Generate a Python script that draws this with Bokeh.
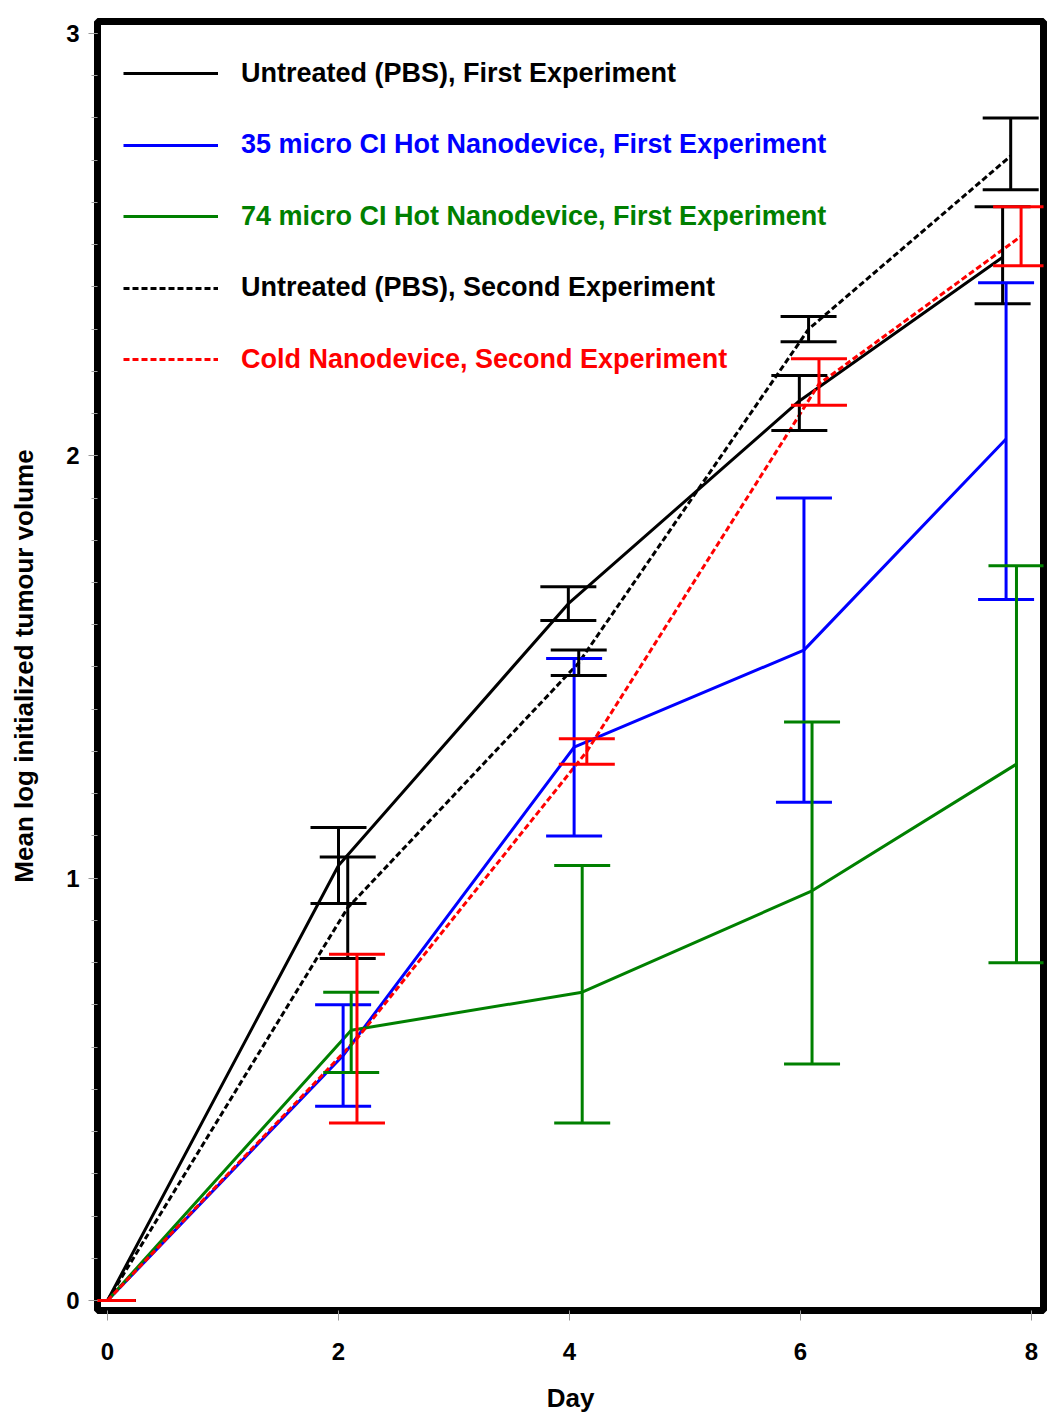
from bokeh.plotting import figure
from bokeh.models import (Whisker, TeeHead, ColumnDataSource, Legend, LegendItem,
                          SingleIntervalTicker, FixedTicker, Range1d)
from bokeh.embed import file_html
from bokeh.resources import INLINE

# ---- data ----
x_ticks = [0, 2, 4, 6, 8]

labels = ["Untreated (PBS), First Experiment",
          "35 micro CI Hot Nanodevice, First Experiment",
          "74 micro CI Hot Nanodevice, First Experiment",
          "Untreated (PBS), Second Experiment",
          "Cold Nanodevice, Second Experiment"]

pbs1_x = [0, 2.00, 3.99, 5.99, 7.75]
pbs1_y = [0, 1.03, 1.65, 2.13, 2.47]
pbs1_lo = [0, 0.94, 1.61, 2.06, 2.36]
pbs1_hi = [0, 1.12, 1.69, 2.19, 2.59]

hot35_x = [0, 2.04, 4.04, 6.03, 7.78]
hot35_y = [0, 0.58, 1.31, 1.54, 2.04]
hot35_lo = [0, 0.46, 1.10, 1.18, 1.66]
hot35_hi = [0, 0.70, 1.52, 1.90, 2.41]

hot74_x = [0, 2.11, 4.11, 6.10, 7.87]
hot74_y = [0, 0.64, 0.73, 0.97, 1.27]
hot74_lo = [0, 0.54, 0.42, 0.56, 0.80]
hot74_hi = [0, 0.73, 1.03, 1.37, 1.74]

pbs2_x = [0, 2.08, 4.08, 6.07, 7.82]
pbs2_y = [0, 0.93, 1.51, 2.30, 2.71]
pbs2_lo = [0, 0.81, 1.48, 2.27, 2.63]
pbs2_hi = [0, 1.05, 1.54, 2.33, 2.80]

cold_x = [0, 2.16, 4.15, 6.16, 7.91]
cold_y = [0, 0.62, 1.30, 2.17, 2.52]
cold_lo = [0, 0.42, 1.27, 2.12, 2.45]
cold_hi = [0, 0.82, 1.33, 2.23, 2.59]

series = [
    (pbs1_x, pbs1_y, pbs1_lo, pbs1_hi, "#000000", "solid"),
    (hot35_x, hot35_y, hot35_lo, hot35_hi, "#0000FF", "solid"),
    (hot74_x, hot74_y, hot74_lo, hot74_hi, "#008000", "solid"),
    (pbs2_x, pbs2_y, pbs2_lo, pbs2_hi, "#000000", "6 3"),
    (cold_x, cold_y, cold_lo, cold_hi, "#FF0000", "6 3"),
]

FONT = "Liberation Sans"

p = figure(width=1050, height=1420, output_backend="svg", toolbar_location=None,
           x_range=Range1d(-0.0866, 8.104), y_range=Range1d(-0.0237, 3.0284),
           min_border_left=97, min_border_right=7, min_border_top=21,
           min_border_bottom=110)
p.background_fill_color = "white"
p.border_fill_color = "white"
p.outline_line_color = "black"
p.outline_line_width = 7
p.outline_line_alpha = 1.0
p.xgrid.visible = False
p.ygrid.visible = False

# axes
p.xaxis.ticker = FixedTicker(ticks=x_ticks)
p.yaxis.ticker = SingleIntervalTicker(interval=1, num_minor_ticks=10)
for ax in (p.xaxis, p.yaxis):
    ax.axis_line_color = None
    ax.major_tick_line_color = "#999999"
    ax.minor_tick_line_color = "#999999"
    ax.major_tick_in = 0
    ax.minor_tick_in = 0
    ax.major_label_text_font = FONT
    ax.major_label_text_font_style = "bold"
    ax.major_label_text_font_size = "24px"
    ax.major_label_text_color = "black"
    ax.axis_label_text_font = FONT
    ax.axis_label_text_font_style = "bold"
    ax.axis_label_text_font_size = "26px"
    ax.axis_label_text_color = "black"
p.xaxis.minor_tick_line_color = None
p.xaxis.major_tick_out = 10
p.xaxis.major_label_standoff = 22
p.xaxis.axis_label = "Day"
p.xaxis.axis_label_standoff = 20
p.yaxis.major_tick_out = 9
p.yaxis.minor_tick_out = 6
p.yaxis.major_label_standoff = 9
p.yaxis.axis_label = "Mean log initialized tumour volume"
p.yaxis.axis_label_standoff = 24

renderers = []
for xs, ys, lo, hi, color, dash in series:
    src = ColumnDataSource(dict(x=xs, y=ys, lo=lo, hi=hi))
    r = p.line("x", "y", source=src, line_color=color, line_width=3, line_dash=dash)
    w = Whisker(source=src, base="x", lower="lo", upper="hi", dimension="height",
                line_color=color, line_width=3, level="glyph",
                upper_head=TeeHead(size=56, line_color=color, line_width=3),
                lower_head=TeeHead(size=56, line_color=color, line_width=3))
    p.add_layout(w)
    renderers.append((r, color))

# legend: one Legend per entry so each label can carry its series colour
legend_centers = [73, 144.5, 216, 287.5, 359]  # page y of each entry
for (r, color), lab, yc in zip(renderers, labels, legend_centers):
    leg = Legend(items=[LegendItem(label=lab, renderers=[r])],
                 location=(26, 1290 - yc),
                 padding=0, margin=0, spacing=0,
                 glyph_width=95, glyph_height=40, label_height=40,
                 label_standoff=23,
                 label_text_font=FONT, label_text_font_style="bold",
                 label_text_font_size="27px", label_text_color=color,
                 border_line_color=None, background_fill_alpha=0)
    p.add_layout(leg, "center")

open("out.html", "w").write(file_html(p, INLINE))
